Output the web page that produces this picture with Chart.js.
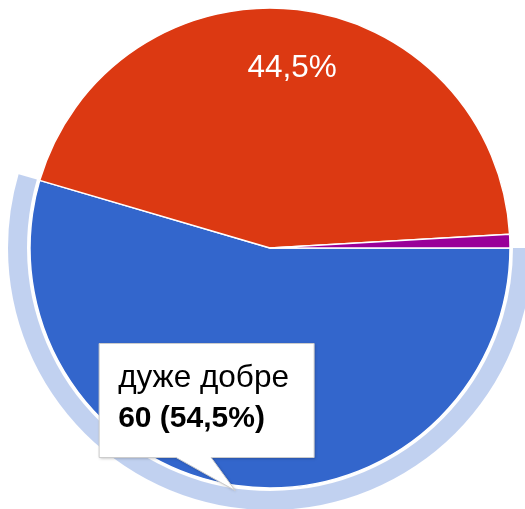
<!DOCTYPE html>
<html><head><meta charset="utf-8">
<script src="https://cdn.jsdelivr.net/npm/chart.js@4"></script>
<style>html,body{margin:0;padding:0;background:#fff;overflow:hidden}canvas{display:block}</style>
</head><body>
<canvas id="c" width="525" height="509"></canvas>
<script>
const categories = ['дуже добре', 'добре', 'задовільно'];
const counts = [60, 49, 1];
const sliceColors = ['#3366CC', '#DC3912', '#990099'];
const highlighted = 0;

const FONT = '"Liberation Sans", Arial, sans-serif';
const total = counts.reduce((a, b) => a + b, 0);
function pct(v) { return (v / total * 100).toFixed(1).replace('.', ',') + '%'; }

function arcProps(chart, i) {
  return chart.getDatasetMeta(0).data[i].getProps(['x', 'y', 'startAngle', 'endAngle', 'outerRadius'], true);
}

const ringPlugin = {
  id: 'ring',
  beforeDatasetsDraw(chart) {
    const a = arcProps(chart, highlighted);
    const ctx = chart.ctx;
    ctx.save();
    ctx.beginPath();
    ctx.arc(a.x, a.y, a.outerRadius + 22, a.startAngle, a.endAngle);
    ctx.arc(a.x, a.y, a.outerRadius + 3, a.endAngle, a.startAngle, true);
    ctx.closePath();
    ctx.fillStyle = 'rgba(51,102,204,0.3)';
    ctx.fill();
    ctx.restore();
  }
};

const labelPlugin = {
  id: 'sliceLabels',
  afterDatasetsDraw(chart) {
    const ctx = chart.ctx;
    ctx.save();
    ctx.font = '31.5px ' + FONT;
    ctx.fillStyle = '#ffffff';
    ctx.textAlign = 'center';
    ctx.textBaseline = 'middle';
    counts.forEach((v, i) => {
      if (v / total < 0.05) return;
      const a = arcProps(chart, i);
      const mid = (a.startAngle + a.endAngle) / 2;
      const r = a.outerRadius * 0.755;
      ctx.fillText(pct(v), a.x + Math.cos(mid) * r + 1.5, a.y + Math.sin(mid) * r);
    });
    ctx.restore();
  }
};

const tipPlugin = {
  id: 'staticTip',
  afterDraw(chart) {
    const a = arcProps(chart, highlighted);
    const mid = (a.startAngle + a.endAngle) / 2;
    const tx = a.x + Math.cos(mid) * (a.outerRadius + 5);
    const ty = a.y + Math.sin(mid) * (a.outerRadius + 5);
    const left = tx - 136, top = ty - 147, w = 215, h = 114;
    const ctx = chart.ctx;
    ctx.save();
    ctx.beginPath();
    ctx.moveTo(left, top);
    ctx.lineTo(left + w, top);
    ctx.lineTo(left + w, top + h);
    ctx.lineTo(tx - 24, top + h);
    ctx.lineTo(tx, ty);
    ctx.lineTo(tx - 59, top + h);
    ctx.lineTo(left, top + h);
    ctx.closePath();
    ctx.shadowColor = 'rgba(0,0,0,0.25)';
    ctx.shadowBlur = 3;
    ctx.shadowOffsetX = 1;
    ctx.shadowOffsetY = 1;
    ctx.fillStyle = '#ffffff';
    ctx.fill();
    ctx.shadowColor = 'transparent';
    ctx.strokeStyle = '#cccccc';
    ctx.lineWidth = 1;
    ctx.stroke();
    ctx.fillStyle = '#000000';
    ctx.textAlign = 'left';
    ctx.textBaseline = 'alphabetic';
    ctx.font = '31.5px ' + FONT;
    ctx.fillText(categories[highlighted], left + 19, top + 43);
    ctx.font = 'bold 30px ' + FONT;
    ctx.fillText(counts[highlighted] + ' (' + pct(counts[highlighted]) + ')', left + 19, top + 83);
    ctx.restore();
  }
};

new Chart(document.getElementById('c'), {
  type: 'pie',
  data: {
    labels: categories,
    datasets: [{
      data: counts,
      backgroundColor: sliceColors,
      borderColor: '#ffffff',
      borderWidth: 1.5,
      hoverOffset: 0,
      clip: false
    }]
  },
  options: {
    responsive: false,
    animation: false,
    events: [],
    rotation: 90,
    radius: 240,
    layout: { padding: { left: 15, right: 0, top: 0, bottom: 13 } },
    plugins: { legend: { display: false }, tooltip: { enabled: false } }
  },
  plugins: [ringPlugin, labelPlugin, tipPlugin]
});
</script>
</body></html>
